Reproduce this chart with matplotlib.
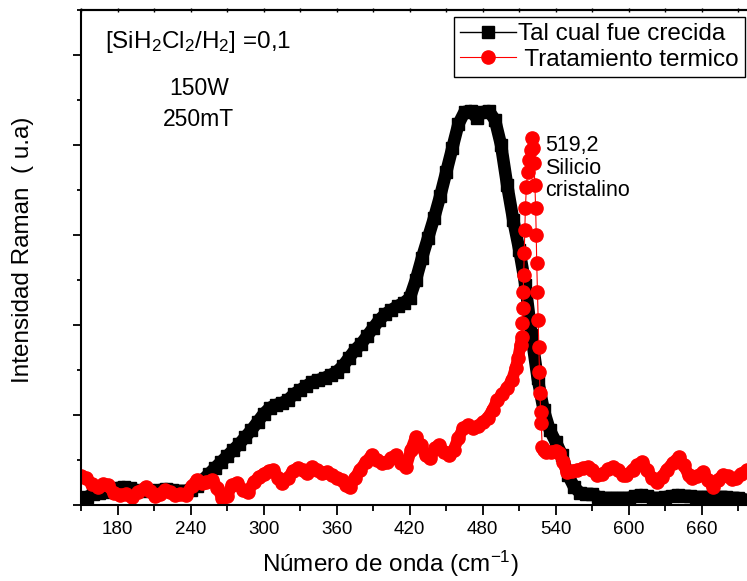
import matplotlib

matplotlib.use("Agg")
import matplotlib.pyplot as plt
from matplotlib.ticker import MultipleLocator

plt.rcParams["font.family"] = ["Liberation Sans", "DejaVu Sans"]
plt.rcParams["mathtext.fontset"] = "custom"
plt.rcParams["mathtext.rm"] = "Liberation Sans"
plt.rcParams["mathtext.it"] = "Liberation Sans:italic"
plt.rcParams["mathtext.default"] = "regular"

# --- data (wavenumber cm^-1, intensity a.u.) ---
wn_crecida = [150, 155, 160, 165, 170, 175, 180, 185, 190, 195, 200, 205, 210, 215, 220,
              225, 230, 235, 240, 245, 250, 255, 260, 265, 270, 275, 280, 285, 290, 295,
              300, 305, 310, 315, 320, 325, 330, 335, 340, 345, 350, 355, 360, 365, 370,
              375, 380, 385, 390, 395, 400, 405, 410, 415, 420, 425, 430, 435, 440, 445,
              450, 455, 460, 465, 470, 475, 480, 485, 490, 495, 500, 505, 510, 515, 520,
              525, 530, 535, 540, 545, 550, 555, 560, 565, 570, 575, 580, 585, 590, 595,
              600, 605, 610, 615, 620, 625, 630, 635, 640, 645, 650, 655, 660, 665, 670,
              675, 680, 685, 690, 697]
int_crecida = [78, 89, 122, 133, 144, 167, 189, 200, 189, 167, 156, 167, 156, 167, 178,
               167, 156, 156, 167, 211, 278, 344, 411, 478, 544, 611, 678, 756, 833, 922,
               1011, 1078, 1111, 1133, 1167, 1233, 1278, 1322, 1367, 1389, 1411, 1444, 1478, 1544, 1633,
               1722, 1789, 1878, 1967, 2056, 2122, 2167, 2211, 2244, 2300, 2500, 2744, 2967, 3189, 3433,
               3700, 3967, 4233, 4367, 4378, 4300, 4367, 4378, 4278, 4000, 3556, 3167, 2833, 2444, 1889,
               1411, 1056, 833, 700, 556, 333, 200, 133, 122, 122, 89, 78, 78, 78, 78,
               78, 100, 111, 100, 78, 78, 89, 100, 111, 100, 100, 89, 89, 89, 89,
               89, 89, 78, 78, 56]

wn_termico = [150, 154, 159, 164, 168, 172, 177, 182, 187, 192, 197, 203, 207, 211, 215,
              219, 223, 227, 231, 236, 241, 245, 249, 253, 258, 262, 266, 270, 274, 278,
              283, 287, 292, 296, 300, 304, 308, 312, 315, 320, 324, 328, 332, 336, 340,
              344, 348, 352, 356, 360, 364, 368, 371, 375, 379, 384, 389, 393, 397, 401,
              405, 409, 413, 417, 421, 425, 429, 433, 437, 441, 444, 448, 452, 456, 460,
              464, 468, 472, 476, 480, 484, 488, 492, 496, 500, 504, 507, 509, 511,
              512.0, 512.4, 512.8, 513.2, 513.6, 514.0, 514.5, 515.0, 515.8, 516.8, 518.0, 519.2,
              520.2, 521.2, 522.0, 522.8, 523.4, 523.9, 524.3, 524.9, 525.5, 526.0, 526.5, 527.0,
              527.5, 528.0, 528.8, 530, 532, 536, 540, 543, 546, 549, 553, 557, 562, 566,
              570, 574, 578, 583, 587, 591, 595, 598, 603, 607, 611, 615, 619, 623, 627,
              631, 636, 641, 645, 649, 652, 656, 661, 665, 669, 673, 677, 681, 685, 688,
              692, 697]
int_termico = [322, 300, 233, 200, 233, 222, 133, 111, 122, 89, 144, 200, 156, 100, 122,
               167, 144, 111, 122, 111, 211, 278, 244, 256, 278, 189, 78, 100, 222, 244,
               167, 144, 256, 311, 344, 378, 389, 300, 244, 300, 378, 411, 389, 356, 422,
               389, 356, 367, 333, 300, 278, 222, 200, 300, 389, 478, 556, 500, 467, 478,
               522, 556, 467, 422, 611, 756, 667, 556, 522, 633, 667, 589, 556, 611, 744,
               856, 889, 856, 878, 922, 967, 1056, 1167, 1233, 1300, 1389, 1522, 1633, 1778,
               1867, 2022, 2189, 2367, 2556, 2800, 3056, 3300, 3533, 3700, 3830, 3950,
               4078, 3970, 3800, 3556, 3300, 3000, 2689, 2367, 2056, 1756, 1478, 1244,
               1033, 911, 644, 611, 589, 589, 600, 578, 478, 367, 378, 389, 411, 422,
               389, 333, 344, 400, 422, 389, 333, 333, 389, 444, 478, 389, 300, 256, 311,
               389, 467, 533, 444, 333, 300, 322, 367, 278, 200, 278, 333, 322, 289, 300,
               344, 389]

fig = plt.figure(figsize=(7.47, 5.81), dpi=100)
ax = fig.add_axes([81 / 747, 76 / 581, 666 / 747, 495 / 581])

# black band: thick underlay + squares
ax.plot(wn_crecida, int_crecida, "-", color="black", lw=9,
        solid_joinstyle="round", solid_capstyle="round")
ax.plot(wn_crecida, int_crecida, "-s", color="black", lw=1, ms=8,
        label="Tal cual fue crecida")

# red band: thick underlay away from the sharp c-Si peak, where circles stand apart
i0 = wn_termico.index(512.0)
i1 = wn_termico.index(528.8)
ax.plot(wn_termico[:i0 + 1], int_termico[:i0 + 1], "-", color="red", lw=8.5,
        solid_joinstyle="round", solid_capstyle="round")
ax.plot(wn_termico[i1:], int_termico[i1:], "-", color="red", lw=8.5,
        solid_joinstyle="round", solid_capstyle="round")
ax.plot(wn_termico, int_termico, "-o", color="red", lw=0.8, ms=9.5,
        label=" Tratamiento termico")

ax.set_xlim(150, 697)
ax.set_ylim(0, 5500)
ax.xaxis.set_minor_locator(MultipleLocator(30))
ax.yaxis.set_major_locator(MultipleLocator(1000))
ax.yaxis.set_minor_locator(MultipleLocator(500))
ax.set_xticks(range(180, 661, 60))
ax.tick_params(axis="x", which="major", length=7.5, width=1.3, labelsize=13.5, pad=4)
ax.tick_params(axis="x", which="minor", length=4.5, width=1.3)
ax.tick_params(axis="y", which="major", length=6, width=1.3, labelleft=False)
ax.tick_params(axis="y", which="minor", length=3, width=1.3)
for side in ("left", "bottom", "top"):
    ax.spines[side].set_linewidth(1.5)
ax.spines["right"].set_visible(False)

top = ax.secondary_xaxis("top")
top.xaxis.set_major_locator(MultipleLocator(30))
top.tick_params(direction="inout", length=3, width=1, labeltop=False)
top.spines["top"].set_linewidth(1.5)

ax.set_xlabel("Número de onda (cm$^{-1}$)", fontsize=17.5)
ax.set_ylabel("Intensidad Raman  ( u.a)", fontsize=17.5)
ax.xaxis.set_label_coords(0.464, -0.088)
ax.yaxis.set_label_coords(-0.07, 0.515)

ax.text(0.036, 0.935, "[SiH$_2$Cl$_2$/H$_2$] =0,1", transform=ax.transAxes,
        fontsize=17.5, va="center", ha="left")
ax.text(0.177, 0.842, "150W", transform=ax.transAxes, fontsize=16.5, ha="center", va="center")
ax.text(0.177, 0.778, "250mT", transform=ax.transAxes, fontsize=16.5, ha="center", va="center")
ax.text(531, 4110, "519,2\nSilicio\ncristalino", fontsize=15.5, ha="left", va="top",
        linespacing=1.1)

leg = ax.legend(loc="upper right", bbox_to_anchor=(0.997, 0.986), borderaxespad=0,
                fontsize=17.5, numpoints=1, handlelength=2.3, handletextpad=0.1,
                labelspacing=0.15, borderpad=0.25, fancybox=False, framealpha=1,
                edgecolor="black")
leg.get_frame().set_linewidth(1.0)

fig.savefig("out.png", dpi=100)
